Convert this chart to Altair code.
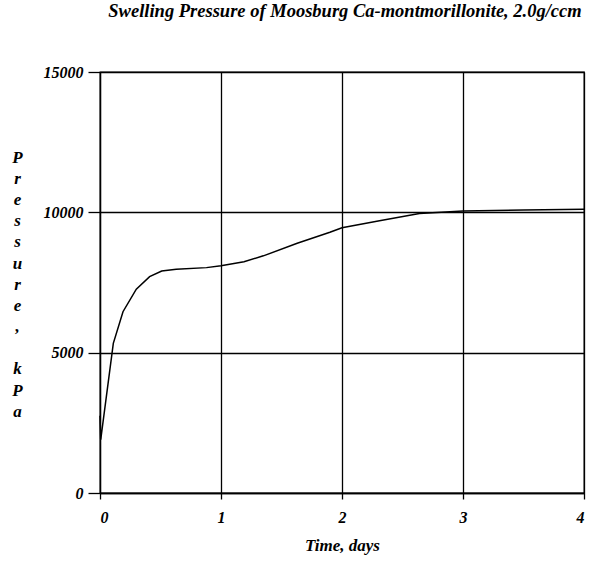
import altair as alt
import pandas as pd

days = [0.0, 0.006, 0.11, 0.19, 0.30, 0.41, 0.51, 0.63, 0.88, 1.0, 1.19, 1.35,
        1.63, 1.90, 2.0, 2.31, 2.64, 3.0, 3.5, 4.0]
pressure = [2750, 1900, 5330, 6460, 7260, 7710, 7910, 7970, 8030, 8100, 8240, 8450,
            8900, 9290, 9450, 9700, 9960, 10050, 10080, 10110]

x_ticks = [0, 1, 2, 3, 4]
y_ticks = [0, 5000, 10000, 15000]
title_text = "Swelling Pressure of Moosburg Ca-montmorillonite, 2.0g/ccm"
x_title = "Time, days"
y_title = list("Pressure,") + ["\u2800"] + list("kPa")

df = pd.DataFrame({"day": days, "pressure": pressure})

FONT = "Liberation Serif"

chart = alt.Chart(df).mark_line(color="black", strokeWidth=1.5).encode(
    x=alt.X("day:Q", scale=alt.Scale(domain=[0, 4], nice=False),
            axis=alt.Axis(values=x_ticks, title=x_title, format="d",
                          tickSize=6, labelPadding=10, titlePadding=12)),
    y=alt.Y("pressure:Q", scale=alt.Scale(domain=[0, 15000], nice=False),
            axis=alt.Axis(values=y_ticks, title=y_title, format="d",
                          tickSize=12, labelPadding=5,
                          titleAngle=0, titleX=-83, titleY=85,
                          titleBaseline="middle", titleAlign="center",
                          titleLineHeight=21.2)),
).properties(
    width=484, height=421,
    autosize=alt.AutoSizeParams(type="none"),
    padding={"left": 100, "top": 72, "right": 5, "bottom": 71},
    title=alt.TitleParams(title_text, anchor="middle", offset=44, dx=3,
                          font=FONT, fontSize=18.5, fontWeight="bold",
                          fontStyle="italic", color="black"),
).configure(background="white").configure_view(
    stroke="black", strokeWidth=1.3
).configure_axis(
    domainColor="black", domainWidth=1.3, tickColor="black", tickWidth=1.3,
    gridColor="black", gridWidth=1.3, gridOpacity=1,
    labelFont=FONT, labelFontSize=16, labelFontWeight="bold",
    labelFontStyle="italic", labelColor="black",
    titleFont=FONT, titleFontSize=17, titleFontWeight="bold",
    titleFontStyle="italic", titleColor="black",
)

chart.save("out.html", embed_options={"renderer": "svg", "actions": False})
